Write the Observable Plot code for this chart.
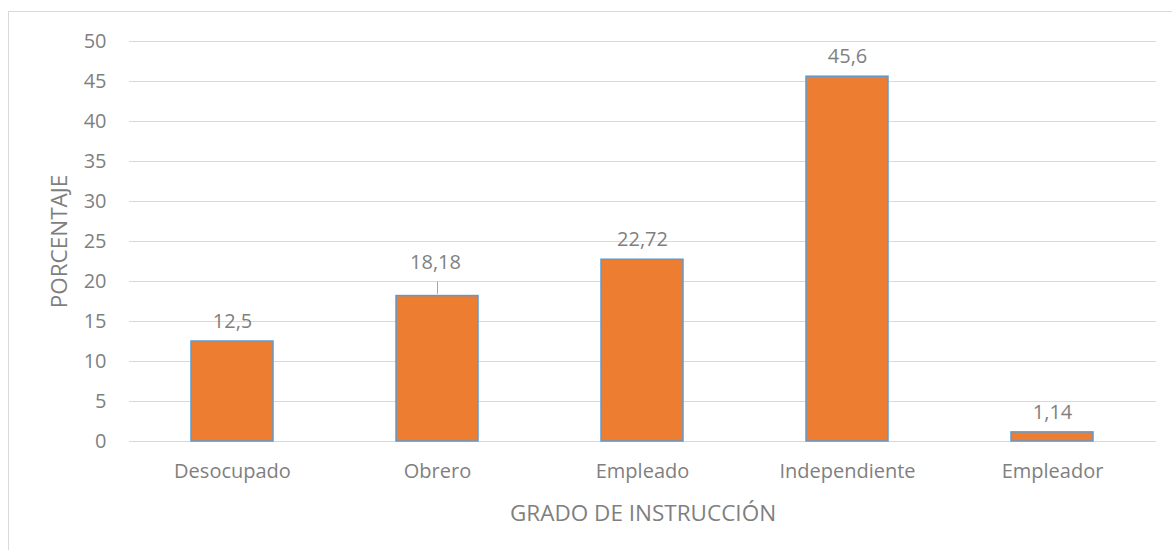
<!DOCTYPE html>
<html>
<head>
<meta charset="utf-8">
<script src="https://cdn.jsdelivr.net/npm/d3@7"></script>
<script src="https://cdn.jsdelivr.net/npm/@observablehq/plot@0.6"></script>
<style>
  html, body { margin: 0; padding: 0; background: #fff; }
  #wrap { position: relative; width: 1172px; height: 550px; overflow: hidden; }
  #frame { position: absolute; left: 8px; top: 11px; width: 1300px; height: 700px;
           border-left: 1px solid #d9d9d9; border-top: 1px solid #d9d9d9; }
  #chart { position: absolute; left: 0; top: 0; }
</style>
</head>
<body>
<div id="wrap"><div id="frame"></div><div id="chart"></div></div>
<script>
const categories = ["Desocupado", "Obrero", "Empleado", "Independiente", "Empleador"];
const values = [12.5, 18.18, 22.72, 45.6, 1.14];
const yTicks = [0, 5, 10, 15, 20, 25, 30, 35, 40, 45, 50];
const xTitle = "GRADO DE INSTRUCCIÓN";
const yTitle = "PORCENTAJE";
const raisedLabel = "Obrero"; // label lifted with a leader line

const data = categories.map((c, i) => ({cat: c, v: values[i], label: String(values[i]).replace(".", ",")}));
const textColor = "#7f7f7f";

const chart = Plot.plot({
  width: 1172,
  height: 550,
  marginLeft: 129,
  marginRight: 16,
  marginTop: 41,
  marginBottom: 109,
  style: {fontFamily: "'Open Sans', sans-serif", fontSize: "20px", color: textColor, background: "transparent"},
  x: {domain: categories, paddingInner: 0.6, paddingOuter: 0.3, label: null},
  y: {domain: [0, 50], label: null},
  marks: [
    Plot.gridY(yTicks, {stroke: "#d9d9d9", strokeOpacity: 1, strokeWidth: 1}),
    Plot.axisY(yTicks, {tickSize: 0, tickPadding: 23, fontSize: 20, fill: textColor, label: null}),
    Plot.axisX({tickSize: 0, tickPadding: 22, fontSize: 20, fill: textColor, label: null}),
    Plot.barY(data, {x: "cat", y: "v", fill: "#ED7D31", stroke: "#5B9BD5", strokeWidth: 1.5}),
    Plot.text(data.filter(d => d.cat !== raisedLabel), {x: "cat", y: "v", text: "label", dy: -20, fill: textColor, fontSize: 20, lineAnchor: "middle"}),
    Plot.text(data.filter(d => d.cat === raisedLabel), {x: "cat", y: "v", text: "label", dy: -33, dx: -2, fill: textColor, fontSize: 20, lineAnchor: "middle"}),
    Plot.ruleX(data.filter(d => d.cat === raisedLabel), {x: "cat", y1: d => d.v + 0.2, y2: d => d.v + 1.75, stroke: "#a6a6a6", strokeWidth: 1}),
    Plot.text([xTitle], {frameAnchor: "bottom", dy: 72, fill: textColor, fontSize: 22.5, textAnchor: "middle", lineAnchor: "middle"}),
    Plot.text([yTitle], {frameAnchor: "left", dx: -70, rotate: -90, fill: textColor, fontSize: 22.5, textAnchor: "middle", lineAnchor: "middle"})
  ]
});
document.getElementById("chart").appendChild(chart);
</script>
</body>
</html>
